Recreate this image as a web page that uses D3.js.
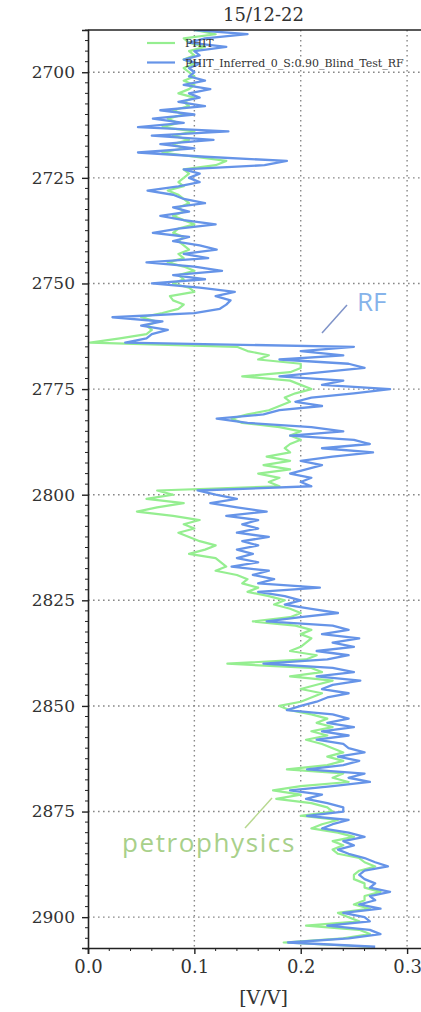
<!DOCTYPE html>
<html>
<head>
<meta charset="utf-8">
<script src="https://cdn.jsdelivr.net/npm/d3@7"></script>
<style>
  body { margin: 0; background: #fff; overflow: hidden; }
  svg { display: block; }
</style>
</head>
<body>
<script>
// Well log track: PHIT (petrophysics) vs. RF inferred PHIT
var title = '15/12-22';
var xLabel = '[V/V]';
var xTicks = [0.0, 0.1, 0.2, 0.3];
var yTicks = [2700, 2725, 2750, 2775, 2800, 2825, 2850, 2875, 2900];
var legendLabels = ['PHIT', 'PHIT_Inferred_0_S:0.90_Blind_Test_RF'];
var topDepth = 2690; // first sample, one sample per metre

var phit = [
  0.10, 0.12, 0.09, 0.095, 0.11, 0.095, 0.10, 0.09, 0.10, 0.09,
  0.095, 0.10, 0.09, 0.10, 0.095, 0.085, 0.10, 0.09, 0.095, 0.08,
  0.09, 0.075, 0.085, 0.07, 0.10, 0.08, 0.095, 0.08, 0.09, 0.07,
  0.10, 0.13, 0.12, 0.09, 0.095, 0.09, 0.085, 0.09, 0.075, 0.085,
  0.09, 0.095, 0.085, 0.09, 0.08, 0.09, 0.10, 0.085, 0.08, 0.09,
  0.085, 0.09, 0.095, 0.085, 0.09, 0.075, 0.09, 0.10, 0.085, 0.09,
  0.08, 0.095, 0.10, 0.077, 0.08, 0.09, 0.085, 0.07, 0.05, 0.065,
  0.055, 0.06, 0.055, 0.03, 0.002, 0.14, 0.15, 0.17, 0.16, 0.20,
  0.20, 0.19, 0.145, 0.19, 0.20, 0.21, 0.195, 0.185, 0.19, 0.18,
  0.17, 0.15, 0.135, 0.145, 0.18, 0.20, 0.19, 0.20, 0.19, 0.185,
  0.19, 0.168, 0.19, 0.165, 0.19, 0.16, 0.18, 0.17, 0.18, 0.065,
  0.08, 0.055, 0.09, 0.065, 0.046, 0.08, 0.105, 0.09, 0.10, 0.085,
  0.095, 0.105, 0.12, 0.11, 0.095, 0.12, 0.125, 0.13, 0.12, 0.14,
  0.15, 0.145, 0.16, 0.15, 0.17, 0.185, 0.175, 0.19, 0.20, 0.19,
  0.155, 0.195, 0.21, 0.20, 0.21, 0.205, 0.20, 0.19, 0.215, 0.205,
  0.131, 0.21, 0.22, 0.19, 0.23, 0.215, 0.20, 0.22, 0.21, 0.20,
  0.18, 0.19, 0.21, 0.225, 0.215, 0.23, 0.21, 0.225, 0.205, 0.22,
  0.23, 0.24, 0.225, 0.24, 0.225, 0.187, 0.24, 0.23, 0.245, 0.20,
  0.174, 0.20, 0.177, 0.21, 0.225, 0.23, 0.20, 0.235, 0.22, 0.21,
  0.235, 0.25, 0.23, 0.24, 0.23, 0.235, 0.255, 0.26, 0.27, 0.255,
  0.25, 0.25, 0.26, 0.26, 0.275, 0.26, 0.26, 0.25, 0.265, 0.235,
  0.245, 0.255, 0.205, 0.255, 0.265, 0.24, 0.184, 0.265
];

var phitInferred = [
  0.10, 0.15, 0.11, 0.095, 0.13, 0.10, 0.105, 0.09, 0.105, 0.095,
  0.10, 0.095, 0.11, 0.09, 0.115, 0.095, 0.105, 0.085, 0.11, 0.068,
  0.10, 0.061, 0.09, 0.047, 0.132, 0.06, 0.118, 0.068, 0.10, 0.047,
  0.11, 0.187, 0.166, 0.09, 0.105, 0.095, 0.105, 0.085, 0.056, 0.08,
  0.09, 0.11, 0.08, 0.095, 0.068, 0.09, 0.12, 0.085, 0.061, 0.095,
  0.08, 0.105, 0.121, 0.09, 0.113, 0.055, 0.10, 0.126, 0.08, 0.11,
  0.06, 0.105, 0.138, 0.12, 0.134, 0.13, 0.124, 0.10, 0.023, 0.07,
  0.05, 0.075, 0.06, 0.055, 0.035, 0.25, 0.20, 0.24, 0.18, 0.245,
  0.26, 0.22, 0.18, 0.24, 0.22, 0.284, 0.25, 0.21, 0.195, 0.22,
  0.18, 0.165, 0.121, 0.15, 0.21, 0.24, 0.19, 0.25, 0.265, 0.22,
  0.268, 0.23, 0.20, 0.22, 0.205, 0.19, 0.21, 0.20, 0.21, 0.103,
  0.12, 0.14, 0.115, 0.14, 0.168, 0.13, 0.16, 0.145, 0.16, 0.14,
  0.17, 0.145, 0.16, 0.14, 0.155, 0.14, 0.16, 0.135, 0.17, 0.155,
  0.175, 0.16, 0.218, 0.16, 0.185, 0.20, 0.185, 0.21, 0.235, 0.20,
  0.168, 0.23, 0.245, 0.22, 0.255, 0.23, 0.25, 0.215, 0.245, 0.225,
  0.165, 0.23, 0.25, 0.215, 0.256, 0.23, 0.22, 0.245, 0.225, 0.215,
  0.20, 0.187, 0.23, 0.245, 0.225, 0.25, 0.22, 0.245, 0.215, 0.24,
  0.245, 0.26, 0.235, 0.255, 0.24, 0.206, 0.26, 0.245, 0.265, 0.23,
  0.19, 0.22, 0.205, 0.225, 0.24, 0.24, 0.206, 0.245, 0.23, 0.22,
  0.245, 0.26, 0.24, 0.25, 0.235, 0.245, 0.26, 0.27, 0.282, 0.26,
  0.255, 0.26, 0.27, 0.265, 0.284, 0.265, 0.27, 0.255, 0.275, 0.24,
  0.26, 0.265, 0.225, 0.265, 0.275, 0.245, 0.188, 0.27
];

var W = 421, H = 1012;
var margin = {top: 30, left: 88, bottom: 64};
var plotRight = 439;

var serif = '"DejaVu Serif", "Liberation Serif", serif';
var sans = '"Open Sans", "Noto Sans", sans-serif';

var svg = d3.select('body').append('svg')
  .attr('width', W)
  .attr('height', H);

var x = d3.scaleLinear()
  .domain([0, 0.33])
  .range([margin.left, plotRight]);

var y = d3.scaleLinear()
  .domain([2690, 2907.3])
  .range([margin.top, H - margin.bottom]);

svg.append('clipPath').attr('id', 'plot-clip')
  .append('rect')
  .attr('x', x(0)).attr('y', y.range()[0])
  .attr('width', x(0.33) - x(0)).attr('height', y.range()[1] - y.range()[0]);

// dotted grid
var grid = svg.append('g').attr('stroke', '#888').attr('stroke-width', 1.4)
  .attr('stroke-dasharray', '1.6,3.4');
grid.selectAll('.hgrid').data(yTicks).enter().append('line')
  .attr('x1', x(0)).attr('x2', x(0.33))
  .attr('y1', function(d) { return y(d); })
  .attr('y2', function(d) { return y(d); });
grid.selectAll('.vgrid').data(xTicks.slice(1)).enter().append('line')
  .attr('x1', function(d) { return x(d); })
  .attr('x2', function(d) { return x(d); })
  .attr('y1', y.range()[0]).attr('y2', y.range()[1]);

// curves
var line = d3.line()
  .x(function(d) { return x(d); })
  .y(function(d, i) { return y(topDepth + i); });

var curves = svg.append('g').attr('clip-path', 'url(#plot-clip)');
curves.append('path')
  .attr('d', line(phit))
  .attr('fill', 'none')
  .attr('stroke', '#95ee90')
  .attr('stroke-width', 2.2)
  .attr('stroke-linejoin', 'round');
curves.append('path')
  .attr('d', line(phitInferred))
  .attr('fill', 'none')
  .attr('stroke', '#6694e8')
  .attr('stroke-width', 2.3)
  .attr('stroke-linejoin', 'round');

// axes
var yAxis = d3.axisLeft(y).tickValues(yTicks).tickFormat(d3.format('d')).tickSize(6).tickPadding(7);
var gy = svg.append('g').attr('transform', 'translate(' + x(0) + ',0)').call(yAxis);
gy.selectAll('text').attr('font-family', serif).attr('font-size', 17).attr('fill', '#333');

var yMinor = d3.range(2690, 2908, 2.5).filter(function(d) { return yTicks.indexOf(d) < 0; });
svg.append('g').selectAll('line').data(yMinor).enter().append('line')
  .attr('x1', x(0) - 3).attr('x2', x(0))
  .attr('y1', function(d) { return y(d); })
  .attr('y2', function(d) { return y(d); })
  .attr('stroke', '#222').attr('stroke-width', 1);

var xAxis = d3.axisBottom(x).tickValues(xTicks).tickFormat(d3.format('.1f')).tickSize(6).tickPadding(6);
var gx = svg.append('g').attr('transform', 'translate(0,' + y.range()[1] + ')').call(xAxis);
gx.selectAll('text').attr('font-family', serif).attr('font-size', 18).attr('fill', '#333');

var xMinor = d3.range(0, 0.33, 0.02).filter(function(d) { return Math.abs(d * 10 - Math.round(d * 10)) > 1e-6; });
svg.append('g').selectAll('line').data(xMinor).enter().append('line')
  .attr('x1', function(d) { return x(d); })
  .attr('x2', function(d) { return x(d); })
  .attr('y1', y.range()[1]).attr('y2', y.range()[1] + 3)
  .attr('stroke', '#222').attr('stroke-width', 1);

[gx, gy].forEach(function(g) {
  g.select('.domain').attr('stroke', '#222').attr('stroke-width', 1.6);
  g.selectAll('.tick line').attr('stroke', '#222').attr('stroke-width', 1.4);
});

// frame top / right
svg.append('line')
  .attr('x1', x(0)).attr('x2', x(0.33))
  .attr('y1', y.range()[0]).attr('y2', y.range()[0])
  .attr('stroke', '#222').attr('stroke-width', 1.6);
svg.append('line')
  .attr('x1', x(0.33)).attr('x2', x(0.33))
  .attr('y1', y.range()[0]).attr('y2', y.range()[1])
  .attr('stroke', '#222').attr('stroke-width', 1.6);

// title and x label
var midX = (x.range()[0] + x.range()[1]) / 2;
svg.append('text')
  .attr('x', midX).attr('y', 21)
  .attr('text-anchor', 'middle')
  .attr('font-family', serif).attr('font-size', 18).attr('fill', '#333')
  .text(title);
svg.append('text')
  .attr('x', midX).attr('y', 1004)
  .attr('text-anchor', 'middle')
  .attr('font-family', serif).attr('font-size', 19).attr('fill', '#333')
  .text(xLabel);

// legend (no frame)
var legendColors = ['#95ee90', '#6694e8'];
var legend = svg.append('g');
legendLabels.forEach(function(lbl, i) {
  var ly = 43 + i * 19.5;
  legend.append('line')
    .attr('x1', 147).attr('x2', 175)
    .attr('y1', ly).attr('y2', ly)
    .attr('stroke', legendColors[i]).attr('stroke-width', 2.2);
  legend.append('text')
    .attr('x', 185).attr('y', ly + 4)
    .attr('font-family', serif).attr('font-size', 11).attr('fill', '#333')
    .text(lbl);
});

// annotations
svg.append('line')
  .attr('x1', 347).attr('y1', 305).attr('x2', 322).attr('y2', 333)
  .attr('stroke', '#7f93c8').attr('stroke-width', 1.5);
svg.append('text')
  .attr('x', 357).attr('y', 311)
  .attr('font-family', sans).attr('font-size', 26).attr('fill', '#86b3ea')
  .text('RF');

svg.append('line')
  .attr('x1', 272).attr('y1', 798).attr('x2', 245).attr('y2', 828)
  .attr('stroke', '#b8d890').attr('stroke-width', 1.5);
svg.append('text')
  .attr('x', 122).attr('y', 852)
  .attr('font-family', sans).attr('font-size', 26).attr('letter-spacing', 1.6)
  .attr('fill', '#a8d08a')
  .text('petrophysics');
</script>
</body>
</html>
